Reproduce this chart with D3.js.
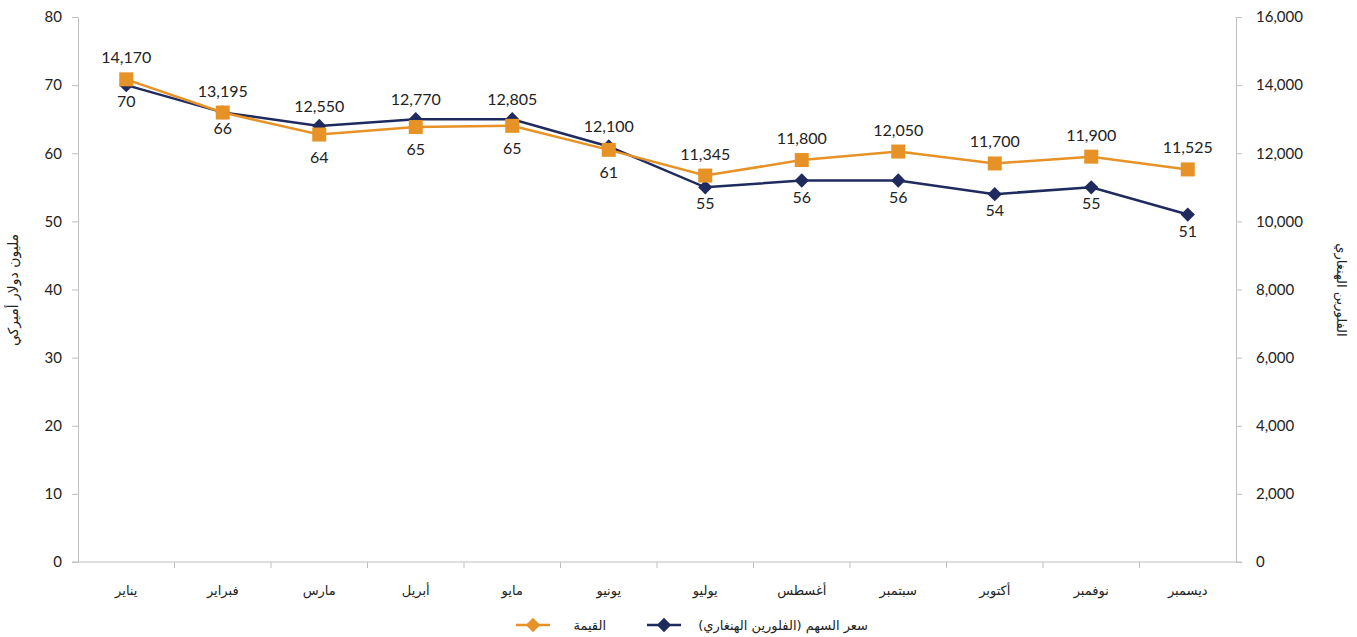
<!DOCTYPE html>
<html>
<head>
<meta charset="utf-8">
<script src="https://cdn.jsdelivr.net/npm/d3@7"></script>
<style>
  body { margin: 0; background: #fff; }
  text { font-family: Lato, "DejaVu Sans", sans-serif; fill: #222; }
  .ar { font-family: "DejaVu Sans", sans-serif; }
</style>
</head>
<body>
<script>
const months = ['يناير', 'فبراير', 'مارس', 'أبريل', 'مايو', 'يونيو', 'يوليو', 'أغسطس', 'سبتمبر', 'أكتوبر', 'نوفمبر', 'ديسمبر'];
const valueSeries = [14170, 13195, 12550, 12770, 12805, 12100, 11345, 11800, 12050, 11700, 11900, 11525];
const priceSeries = [70, 66, 64, 65, 65, 61, 55, 56, 56, 54, 55, 51];
const leftTicks = [0, 10, 20, 30, 40, 50, 60, 70, 80];
const rightTicks = [0, 2000, 4000, 6000, 8000, 10000, 12000, 14000, 16000];
const legendNames = ['القيمة', 'سعر السهم (الفلورين الهنغاري)'];

const width = 1357, height = 637;
const plotL = 78, plotR = 1236, plotT = 17, plotB = 562;
const orange = '#E69226', navy = '#1F2A5E', grid = '#BFBFBF';

const svg = d3.select('body').append('svg')
  .attr('width', width)
  .attr('height', height);

const x = d3.scaleBand().domain(months).range([plotL, plotR]);
const yL = d3.scaleLinear().domain([0, 80]).range([plotB, plotT]);
const yR = d3.scaleLinear().domain([0, 16000]).range([plotB, plotT]);

// left axis
const axL = svg.append('g')
  .attr('transform', `translate(${plotL},0)`)
  .call(d3.axisLeft(yL).tickValues(leftTicks).tickSize(6).tickPadding(10));
axL.selectAll('.domain, line').attr('stroke', grid);
axL.selectAll('text').style('font-size', '15px').attr('fill', '#222');

// right axis
const axR = svg.append('g')
  .attr('transform', `translate(${plotR},0)`)
  .call(d3.axisRight(yR).tickValues(rightTicks).tickSize(6).tickPadding(14).tickFormat(d3.format(',')));
axR.selectAll('.domain, line').attr('stroke', grid);
axR.selectAll('text').style('font-size', '15px').attr('fill', '#222');

// bottom axis
svg.append('line')
  .attr('x1', plotL - 6).attr('x2', plotR + 6)
  .attr('y1', plotB).attr('y2', plotB)
  .attr('stroke', grid);
svg.selectAll('.xtick')
  .data(months.slice(1))
  .enter().append('line')
    .attr('x1', d => x(d)).attr('x2', d => x(d))
    .attr('y1', plotB).attr('y2', plotB + 6)
    .attr('stroke', grid);
svg.selectAll('.xlab')
  .data(months)
  .enter().append('text')
    .attr('class', 'ar')
    .attr('x', d => x(d) + x.bandwidth() / 2)
    .attr('y', plotB + 33)
    .attr('text-anchor', 'middle')
    .style('font-size', '13px')
    .text(d => d);

// axis titles
svg.append('text')
  .attr('class', 'ar')
  .attr('transform', 'translate(18,290) rotate(-90)')
  .attr('text-anchor', 'middle')
  .style('font-size', '14px')
  .text('مليون دولار أميركي');
svg.append('text')
  .attr('class', 'ar')
  .attr('transform', 'translate(1337,290) rotate(90)')
  .attr('text-anchor', 'middle')
  .style('font-size', '13px')
  .text('الفلورين الهنغاري');

const cx = (d, i) => x(months[i]) + x.bandwidth() / 2;

// navy series (left axis)
svg.append('path')
  .datum(priceSeries)
  .attr('fill', 'none')
  .attr('stroke', navy)
  .attr('stroke-width', 2.5)
  .attr('d', d3.line().x(cx).y(d => yL(d)));
svg.selectAll('.dia')
  .data(priceSeries)
  .enter().append('path')
    .attr('d', d3.symbol(d3.symbolDiamond2, 130)())
    .attr('transform', (d, i) => `translate(${cx(d, i)},${yL(d)})`)
    .attr('fill', navy);

// orange series (right axis)
svg.append('path')
  .datum(valueSeries)
  .attr('fill', 'none')
  .attr('stroke', orange)
  .attr('stroke-width', 2.5)
  .attr('d', d3.line().x(cx).y(d => yR(d)));
svg.selectAll('.sq')
  .data(valueSeries)
  .enter().append('rect')
    .attr('x', (d, i) => cx(d, i) - 7)
    .attr('y', d => yR(d) - 7)
    .attr('width', 14)
    .attr('height', 14)
    .attr('fill', orange);

// labels: navy below both markers, orange above both
svg.selectAll('.plab')
  .data(priceSeries)
  .enter().append('text')
    .attr('x', cx)
    .attr('y', (d, i) => {
      const a = yL(d), b = yR(valueSeries[i]);
      return a >= b - 2 ? a + 22 : b + 28;
    })
    .attr('text-anchor', 'middle')
    .style('font-size', '16px')
    .text(d => d);
svg.selectAll('.vlab')
  .data(valueSeries)
  .enter().append('text')
    .attr('x', cx)
    .attr('y', (d, i) => {
      const a = yR(d), b = yL(priceSeries[i]);
      return a <= b + 2 ? a - 16 : b - 14;
    })
    .attr('text-anchor', 'middle')
    .style('font-size', '16px')
    .text(d3.format(','));

// legend
const legend = [
  {name: legendNames[0], color: orange, mx: 533, tx: 606},
  {name: legendNames[1], color: navy, mx: 664, tx: 868}
];
const lg = svg.selectAll('.lg').data(legend).enter().append('g');
lg.append('line')
  .attr('x1', d => d.mx - 17).attr('x2', d => d.mx + 17)
  .attr('y1', 625).attr('y2', 625)
  .attr('stroke', d => d.color).attr('stroke-width', 2.5);
lg.append('path')
  .attr('d', d3.symbol(d3.symbolDiamond2, 130)())
  .attr('transform', d => `translate(${d.mx},625)`)
  .attr('fill', d => d.color);
lg.append('text')
  .attr('class', 'ar')
  .attr('x', d => d.tx)
  .attr('y', 630)
  .attr('text-anchor', 'end')
  .style('font-size', '13px')
  .text(d => d.name);
</script>
</body>
</html>
